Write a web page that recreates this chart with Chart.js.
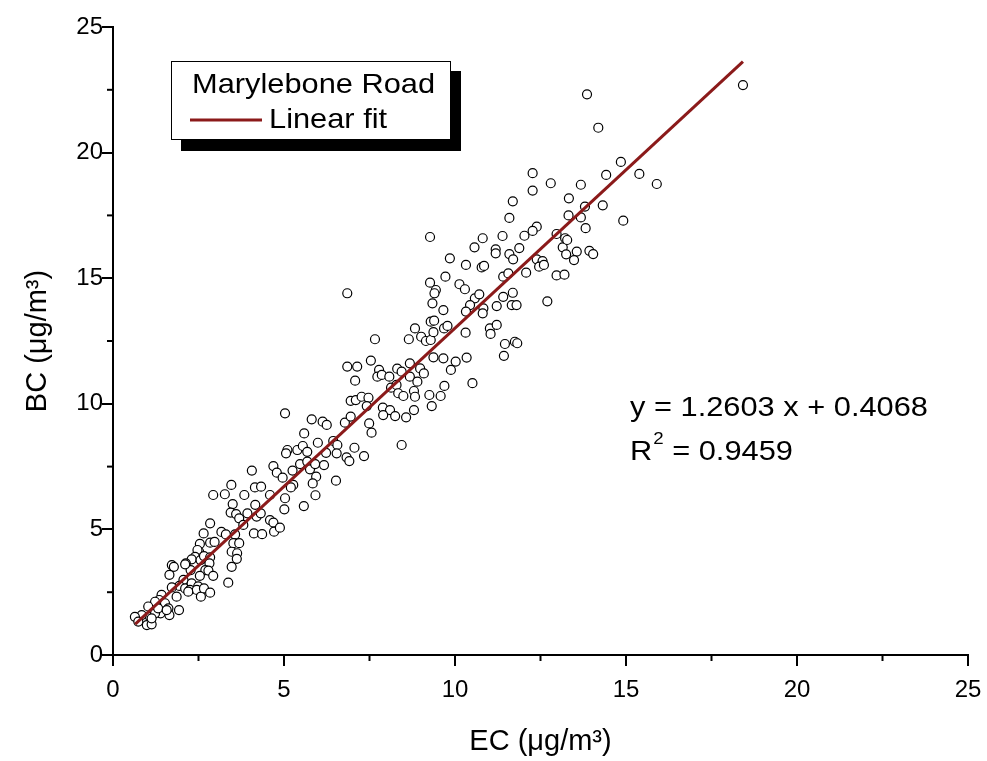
<!DOCTYPE html>
<html>
<head>
<meta charset="utf-8">
<script src="https://cdn.jsdelivr.net/npm/chart.js@4"></script>
<style>
  body { margin: 0; background: #fff; }
</style>
</head>
<body>
<canvas id="chart" width="987" height="761"></canvas>
<script>
// EC (x) and BC (y) pairs
const ecValues = [
  3.50, 3.44, 3.60, 3.69, 3.93, 4.16, 4.20, 4.32, 4.59, 4.69, 5.01, 4.12, 4.36, 4.71, 4.88, 3.81,
  2.84, 2.65, 3.17, 3.30, 3.57, 2.54, 2.52, 2.84, 2.97, 3.52, 3.69, 3.47, 3.63, 3.62, 3.47, 3.37,
  2.47, 2.40, 2.30, 2.13, 2.56, 2.66, 2.84, 2.82, 2.70, 2.79, 2.93, 2.54, 2.27, 1.72, 1.78, 1.65,
  2.11, 2.06, 1.94, 1.72, 2.11, 2.30, 2.25, 2.49, 2.45, 2.57, 2.66, 2.84, 1.86, 1.93, 1.42, 1.35,
  1.23, 1.52, 1.62, 1.65, 1.39, 1.03, 1.08, 0.84, 0.64, 0.74, 0.99, 1.13, 1.23, 1.32, 1.13, 1.57,
  2.20,
  5.03, 5.59, 5.99, 6.44, 6.56, 6.54, 6.23, 7.06, 7.34, 6.83, 6.91, 7.56, 5.10, 5.39, 5.55, 5.68,
  5.06, 4.69, 4.79, 4.96, 5.25, 5.47, 5.68, 5.76, 5.91, 6.17, 5.94, 5.84, 6.52, 5.27, 5.20, 4.15,
  4.33, 4.06, 3.46, 3.27, 2.93, 3.84, 4.59, 5.03, 5.92, 5.58, 8.44,
  10.32, 10.78, 10.85, 9.72, 10.13, 10.29, 9.27, 9.44, 9.40, 9.34, 9.66, 6.85, 10.58, 10.71, 10.44, 10.83,
  10.81, 10.32, 9.29, 9.39, 8.83, 9.01, 9.15, 9.29, 9.37, 9.68, 9.78, 10.31, 11.02, 11.04, 7.66, 8.65,
  7.54, 6.85, 7.14, 9.37, 9.66, 10.02, 10.34, 7.78, 8.31, 8.44, 8.68, 8.98, 9.09, 8.68, 8.90, 7.73,
  7.86, 8.08, 9.88, 10.51, 9.69, 8.13, 8.29, 8.34, 8.49, 8.80, 8.83, 9.25, 9.58, 9.32, 7.08, 6.95,
  7.10, 7.27, 7.47, 7.42, 7.89, 8.10, 8.25, 7.90, 8.57, 8.80, 5.81, 6.13, 6.25, 6.78, 6.95, 7.49,
  9.27, 12.80, 12.27, 12.27, 11.69, 13.68, 13.32, 14.92, 11.59, 13.82, 12.39, 12.27, 12.03, 11.39, 10.81, 10.57,
  11.88, 11.19, 11.19, 11.59, 11.70, 12.97, 13.15, 13.22, 13.28, 13.25, 13.56, 13.48, 13.93, 14.04, 9.85, 11.41,
  11.56, 12.08, 12.39, 12.56, 12.46, 12.60, 12.97, 13.20, 11.41, 11.69,
  13.86, 14.19, 14.85, 14.42, 15.39, 15.90, 13.68, 13.33, 13.80, 14.32, 18.42,
  11.22, 11.66, 11.80, 12.70, 11.22, 11.46, 11.75, 11.82, 11.43
];
const bcValues = [
  6.01, 5.67, 5.61, 5.44, 5.64, 5.98, 5.51, 5.64, 5.37, 5.27, 5.80, 4.84, 4.81, 4.91, 5.07, 5.18,
  5.24, 4.84, 4.90, 4.80, 4.80, 4.42, 4.11, 4.47, 4.50, 4.45, 4.45, 4.11, 4.05, 3.83, 3.51, 2.88,
  4.18, 3.91, 3.81, 3.65, 3.78, 3.94, 3.89, 3.65, 3.38, 3.36, 3.15, 3.15, 3.38, 3.58, 3.51, 3.19,
  3.61, 2.99, 2.75, 2.69, 2.65, 2.85, 2.59, 2.73, 2.59, 2.32, 2.65, 2.48, 2.32, 1.79, 2.39, 2.19,
  2.12, 2.06, 1.86, 1.59, 1.66, 1.93, 1.52, 1.59, 1.52, 1.33, 1.19, 1.22, 1.66, 1.86, 1.46, 1.79,
  2.52,
  9.62, 8.82, 8.45, 8.52, 8.36, 8.03, 8.05, 8.25, 7.92, 7.87, 7.72, 8.85, 8.16, 8.16, 8.32, 8.09,
  8.03, 7.52, 7.26, 7.06, 7.34, 7.60, 7.70, 7.39, 7.60, 7.56, 7.10, 6.83, 6.94, 6.77, 6.67, 6.67,
  6.70, 7.34, 6.77, 6.40, 6.37, 6.37, 6.37, 6.24, 6.36, 5.93, 8.36,
  15.53, 15.43, 15.49, 15.06, 14.76, 14.56, 14.82, 14.53, 14.40, 14.00, 13.73, 14.40, 14.20, 14.36, 13.93, 13.80,
  13.60, 13.67, 13.27, 13.31, 13.00, 12.67, 12.50, 12.54, 12.85, 13.00, 13.10, 12.83, 13.00, 12.78, 12.57, 12.57,
  11.72, 11.48, 11.48, 11.85, 11.81, 11.68, 11.84, 11.35, 11.40, 11.28, 11.61, 11.41, 11.21, 11.08, 10.88, 11.08,
  11.15, 11.08, 11.35, 10.82, 10.71, 10.64, 10.75, 10.42, 10.31, 10.51, 10.28, 10.35, 10.31, 9.91, 10.92, 10.12,
  10.15, 10.28, 10.24, 9.91, 9.85, 9.75, 9.51, 9.55, 9.46, 9.75, 9.38, 9.29, 9.16, 9.25, 9.49, 9.22,
  16.64, 18.78, 19.18, 18.49, 18.06, 17.42, 17.50, 17.29, 17.40, 16.99, 17.05, 16.88, 16.69, 16.68, 16.59, 16.23,
  16.20, 16.15, 15.99, 15.96, 15.75, 16.76, 16.23, 16.59, 16.52, 15.95, 16.06, 15.72, 16.09, 15.96, 15.79, 15.06,
  15.19, 15.22, 15.75, 15.68, 15.46, 15.53, 15.11, 15.14, 14.26, 14.42,
  22.32, 20.99, 19.63, 19.11, 19.15, 18.75, 18.72, 18.18, 17.85, 17.90, 22.69,
  13.89, 13.93, 13.93, 14.08, 13.14, 12.38, 12.47, 12.41, 11.91
];
// linear fit line, end points
const fitEc = [0.65, 18.42];
const fitBc = [1.23, 23.62];
const minorTicks = [2.5, 7.5, 12.5, 17.5, 22.5];
const seriesNames = ['Marylebone Road', 'Linear fit'];
const fitEquation = 'y = 1.2603 x + 0.4068';
const fitR2 = '0.9459';

const FONT = '"Liberation Sans", Arial, sans-serif';
const FIT_RED = '#8b1a1a';
const STRETCH = 1.1;  // text in the original is a bit wide

const minorTickPlugin = {
  id: 'minorTicks',
  afterDraw(chart) {
    const ctx = chart.ctx;
    const { x, y } = chart.scales;
    ctx.save();
    ctx.strokeStyle = '#000';
    ctx.lineWidth = 2;
    minorTicks.forEach(v => {
      const px = x.getPixelForValue(v);
      ctx.beginPath();
      ctx.moveTo(px, x.top);
      ctx.lineTo(px, x.top + 6);
      ctx.stroke();
      const py = y.getPixelForValue(v);
      ctx.beginPath();
      ctx.moveTo(y.right, py);
      ctx.lineTo(y.right - 6, py);
      ctx.stroke();
    });
    ctx.restore();
  }
};

// draws text widened a little, returns the drawn width
function wideText(ctx, txt, x, y) {
  ctx.save();
  ctx.translate(x, y);
  ctx.scale(STRETCH, 1);
  ctx.fillText(txt, 0, 0);
  ctx.restore();
  return ctx.measureText(txt).width * STRETCH;
}

const boxLegendPlugin = {
  id: 'boxLegend',
  afterDraw(chart) {
    const ctx = chart.ctx;
    const scatterSet = chart.data.datasets.find(d => d.type !== 'line');
    const fitSet = chart.data.datasets.find(d => d.type === 'line');
    ctx.save();
    // shadow + box
    ctx.fillStyle = '#000';
    ctx.fillRect(181, 71, 280, 80);
    ctx.fillStyle = '#fff';
    ctx.fillRect(171, 61, 280, 79);
    ctx.strokeStyle = '#000';
    ctx.lineWidth = 1;
    ctx.strokeRect(171.5, 61.5, 279, 78);

    ctx.fillStyle = '#000';
    ctx.textBaseline = 'middle';
    ctx.font = '28px ' + FONT;
    wideText(ctx, scatterSet.label, 192, 85);

    ctx.strokeStyle = FIT_RED;
    ctx.lineWidth = 3;
    ctx.beginPath();
    ctx.moveTo(190, 120);
    ctx.lineTo(262, 120);
    ctx.stroke();
    wideText(ctx, fitSet.label, 269, 120);

    // fit equation
    wideText(ctx, fitEquation, 630, 408);
    let w = wideText(ctx, 'R', 630, 452);
    ctx.font = '17px ' + FONT;
    w += wideText(ctx, '2', 630 + w + 1, 439) + 1;
    ctx.font = '28px ' + FONT;
    wideText(ctx, ' = ' + fitR2, 630 + w, 452);
    ctx.restore();
  }
};

const scatterPoints = ecValues.map((v, i) => ({ x: v, y: bcValues[i] }));
const fitPoints = fitEc.map((v, i) => ({ x: v, y: fitBc[i] }));

function axis(pos, title) {
  const bottom = pos === 'bottom';
  return {
    type: 'linear',
    position: pos,
    min: 0,
    max: 25,
    afterFit(s) {
      if (bottom) s.height = 104; else s.width = 92;
      // keep the plot area fixed, labels may overhang into the padding
      s.paddingLeft = 0;
      s.paddingRight = 0;
      s.paddingTop = 0;
      s.paddingBottom = 0;
    },
    border: { display: true, color: '#000', width: 2 },
    grid: { drawOnChartArea: false, color: '#000', lineWidth: 2, tickLength: 11 },
    ticks: {
      stepSize: 5,
      color: '#000',
      padding: bottom ? 10 : -1,
      maxRotation: 0,
      font: { family: FONT, size: 24 }
    },
    title: {
      display: true,
      text: title,
      color: '#000',
      padding: { top: 0, bottom: 0 },
      font: { family: FONT, size: 29 }
    }
  };
}

new Chart(document.getElementById('chart'), {
  type: 'scatter',
  data: {
    datasets: [
      {
        label: seriesNames[1],
        type: 'line',
        data: fitPoints,
        borderColor: FIT_RED,
        borderWidth: 3,
        pointRadius: 0,
        fill: false,
        order: 0
      },
      {
        label: seriesNames[0],
        data: scatterPoints,
        pointRadius: 4.5,
        pointBorderWidth: 1.2,
        borderColor: '#000',
        backgroundColor: '#fff',
        order: 1
      }
    ]
  },
  options: {
    responsive: false,
    animation: false,
    devicePixelRatio: 1,
    layout: { padding: { left: 21, top: 27, right: 19, bottom: 2 } },
    plugins: {
      legend: { display: false },
      tooltip: { enabled: false }
    },
    scales: {
      x: axis('bottom', 'EC (μg/m³)'),
      y: axis('left', 'BC (μg/m³)')
    }
  },
  plugins: [minorTickPlugin, boxLegendPlugin]
});
</script>
</body>
</html>
